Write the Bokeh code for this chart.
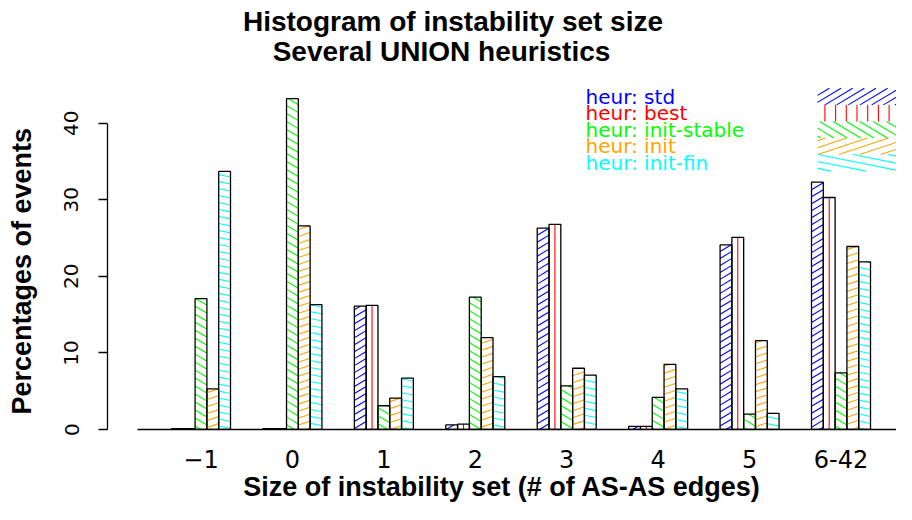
import math
from bokeh.plotting import figure
from bokeh.models import Range1d, FixedTicker, ColumnDataSource, Title
from bokeh.core.properties import value
from bokeh.embed import file_html
from bokeh.resources import INLINE

# ---------------- data ----------------
categories = ["\u22121", "0", "1", "2", "3", "4", "5", "6-42"]
series_names = ["heur: std", "heur: best", "heur: init-stable", "heur: init", "heur: init-fin"]
std = [0.1, 0.1, 16.1, 0.6, 26.3, 0.4, 24.1, 32.3]
best = [0.1, 0.1, 16.2, 0.7, 26.8, 0.4, 25.1, 30.3]
init_stable = [17.1, 43.2, 3.1, 17.3, 5.7, 4.2, 2.0, 7.4]
init = [5.3, 26.6, 4.1, 12.0, 8.0, 8.5, 11.6, 23.9]
init_fin = [33.7, 16.3, 6.7, 6.9, 7.1, 5.3, 2.1, 21.9]
y_ticks = [0, 10, 20, 30, 40]

title_lines = ["Histogram of instability set size", "Several UNION heuristics"]
x_label = "Size of instability set (# of AS-AS edges)"
y_label = "Percentages of events"

# ---------------- layout constants (pixels of the figure) ----------------
PITCH = 91.43
GROUP0_PX = 200.5
BAR_PX = 11.8
YSCALE = 7.675
BASE_PX = 430
FRAME_LEFT, FRAME_RIGHT = 107, 896
W_FIG, H_FIG = 896, 504


def xd(px):
    return (px - GROUP0_PX) / PITCH


def yd(py):
    return (BASE_PX - py) / YSCALE


colors = ["#0000FF", "#FF0000", "#00FF00", "#FFA500", "#00FFFF"]
# hatch style per series: (slope in screen px, vertical spacing px); slope None = vertical lines
hatch_styles = [(0.6, 7.0), (None, 10.7), (-0.6, 8.0), (1.0 / 3.0, 7.0), (-0.2, 7.0)]


def hatch_lines(x0, x1, y0, y1, slope, sp):
    """Hatch lines for a data rectangle, built in pixel space then mapped back."""
    u0, u1 = x0 * PITCH, x1 * PITCH
    v0, v1 = y0 * YSCALE, y1 * YSCALE
    segs = []
    if v1 - v0 < 0.5:
        return segs
    if slope is None:
        uc = (u0 + u1) / 2
        k = math.ceil((u0 - uc) / sp)
        while uc + k * sp <= u1:
            u = uc + k * sp
            segs.append((u / PITCH, v0 / YSCALE, u / PITCH, v1 / YSCALE))
            k += 1
        return segs
    m = slope
    cands = [v0 - m * u0, v0 - m * u1, v1 - m * u0, v1 - m * u1]
    kmin, kmax = math.floor(min(cands) / sp), math.ceil(max(cands) / sp)
    for k in range(kmin, kmax + 1):
        c = k * sp
        a, b = (v0 - c) / m, (v1 - c) / m
        lo, hi = max(min(a, b), u0), min(max(a, b), u1)
        if hi - lo > 0.3:
            segs.append((lo / PITCH, (m * lo + c) / YSCALE, hi / PITCH, (m * hi + c) / YSCALE))
    return segs


p = figure(width=W_FIG, height=H_FIG, output_backend="svg", toolbar_location=None,
           title=None,
           x_range=Range1d(xd(FRAME_LEFT), xd(FRAME_RIGHT)), y_range=Range1d(0, yd(0)),
           min_border_left=FRAME_LEFT, min_border_right=0, min_border_top=0,
           min_border_bottom=H_FIG - BASE_PX)
p.outline_line_color = None
p.border_fill_color = "white"
p.xgrid.visible = False
p.ygrid.visible = False
p.background_fill_color = "white"

# ---------------- bars ----------------
all_series = [std, best, init_stable, init, init_fin]
w = BAR_PX / PITCH
for j, vals in enumerate(all_series):
    xs = [g + (j - 2) * w for g in range(len(categories))]
    segs = []
    for xc, top in zip(xs, vals):
        segs += hatch_lines(xc - w / 2, xc + w / 2, 0, top, *hatch_styles[j])
    p.segment(x0=[s[0] for s in segs], y0=[s[1] for s in segs],
              x1=[s[2] for s in segs], y1=[s[3] for s in segs],
              line_color=colors[j], line_width=1.1)
    src = ColumnDataSource(dict(x=xs, top=vals))
    p.vbar(x="x", top="top", width=w, bottom=0, source=src,
           fill_color=None, line_color="black", line_width=1.3)

# ---------------- legend ----------------
LEG_TOP, LEG_ROW = 88, 16.6
for j, name in enumerate(series_names):
    top = LEG_TOP + j * LEG_ROW
    segs = hatch_lines(xd(817), xd(FRAME_RIGHT), yd(top + LEG_ROW), yd(top), *hatch_styles[j])
    p.segment(x0=[s[0] for s in segs], y0=[s[1] for s in segs],
              x1=[s[2] for s in segs], y1=[s[3] for s in segs],
              line_color=colors[j], line_width=1.1)
p.text(x=[xd(585)] * 5, y=[yd(LEG_TOP + (j + 0.5) * LEG_ROW) for j in range(5)],
       text=series_names, text_color=colors,
       text_font=value("DejaVu Sans"), text_font_size=value("20px"),
       text_align="left", text_baseline="middle")

# ---------------- title ----------------
p.text(x=[xd(452.5), xd(441)], y=[yd(21.5), yd(51)], text=title_lines,
       text_color="black", text_font=value("Liberation Sans"), text_font_size=value("28px"),
       text_font_style="bold", text_align="center", text_baseline="middle")

# ---------------- axes ----------------
xa = p.xaxis[0]
xa.ticker = FixedTicker(ticks=list(range(len(categories))))
xa.major_label_overrides = {i: c for i, c in enumerate(categories)}
xa.major_tick_out = 0
xa.major_tick_in = 0
xa.minor_tick_out = 0
xa.minor_tick_in = 0
xa.bounds = (xd(137), xd(FRAME_RIGHT))
xa.axis_line_color = "black"
xa.axis_line_width = 1.3
xa.major_label_text_font = "DejaVu Sans"
xa.major_label_text_font_size = "24px"
xa.major_label_text_color = "black"
xa.major_label_standoff = 20
xa.axis_label = x_label
xa.axis_label_text_font = "Liberation Sans"
xa.axis_label_text_font_size = "27px"
xa.axis_label_text_font_style = "bold"
xa.axis_label_text_color = "black"
xa.axis_label_standoff = 1

ya = p.yaxis[0]
ya.ticker = FixedTicker(ticks=y_ticks)
ya.bounds = (0.0, 40.0)
ya.major_tick_out = 9
ya.major_tick_in = 0
ya.minor_tick_out = 0
ya.minor_tick_in = 0
ya.axis_line_color = "black"
ya.axis_line_width = 1.3
ya.major_tick_line_color = "black"
ya.major_tick_line_width = 1.5
ya.major_label_orientation = "vertical"
ya.major_label_text_font = "DejaVu Sans"
ya.major_label_text_font_size = "20px"
ya.major_label_text_color = "black"
ya.major_label_standoff = 20
# a tiny placeholder label keeps a gap between the tick labels and the title
ya.axis_label = " "
ya.axis_label_text_font_size = "1px"
ya.axis_label_standoff = 21

p.add_layout(Title(text=y_label, align="left", offset=15, vertical_align="bottom",
                   standoff=0, text_font="Liberation Sans", text_font_size="27px",
                   text_font_style="bold", text_color="black"), "left")

open("out.html", "w").write(file_html(p, INLINE))
